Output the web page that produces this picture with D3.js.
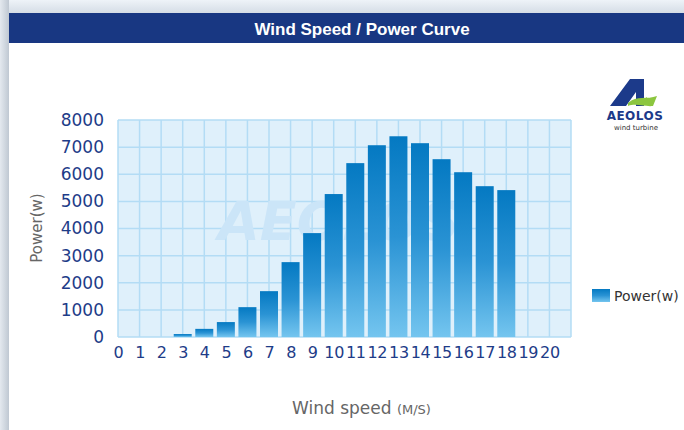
<!DOCTYPE html>
<html>
<head>
<meta charset="utf-8">
<script src="https://cdn.jsdelivr.net/npm/d3@7"></script>
<style>
  body { margin: 0; background: #fff; }
  svg { display: block; font-family: "DejaVu Sans", Verdana, sans-serif; }
</style>
</head>
<body>
<svg id="chart" width="684" height="430"></svg>
<script>
// data
var speeds = [3, 4, 5, 6, 7, 8, 9, 10, 11, 12, 13, 14, 15, 16, 17, 18];
var power = [110, 300, 550, 1100, 1690, 2760, 3830, 5270, 6410, 7070, 7400, 7145, 6555, 6075, 5560, 5415];
var xTicks = d3.range(0, 21);
var yTicks = [0, 1000, 2000, 3000, 4000, 5000, 6000, 7000, 8000];

var svg = d3.select("#chart");
var defs = svg.append("defs");

// page frame: light shadow on top and left
var topGrad = defs.append("linearGradient").attr("id", "topShade")
    .attr("x1", 0).attr("y1", 0).attr("x2", 0).attr("y2", 1);
topGrad.append("stop").attr("offset", "0%").attr("stop-color", "#eef3f8");
topGrad.append("stop").attr("offset", "100%").attr("stop-color", "#d5dde6");
var leftGrad = defs.append("linearGradient").attr("id", "leftShade")
    .attr("x1", 0).attr("y1", 0).attr("x2", 1).attr("y2", 0);
leftGrad.append("stop").attr("offset", "0%").attr("stop-color", "#e4e9ef");
leftGrad.append("stop").attr("offset", "100%").attr("stop-color", "#bfc8d2");

svg.append("rect").attr("x", 0).attr("y", 0).attr("width", 684).attr("height", 13).attr("fill", "url(#topShade)");
svg.append("rect").attr("x", 0).attr("y", 0).attr("width", 9).attr("height", 430).attr("fill", "url(#leftShade)");

// title bar
svg.append("rect").attr("x", 9).attr("y", 13).attr("width", 675).attr("height", 30).attr("fill", "#183782");
svg.append("text")
    .attr("x", 362).attr("y", 35)
    .attr("text-anchor", "middle")
    .attr("fill", "#fff")
    .style("font-family", "'Liberation Sans', Arial, sans-serif")
    .style("font-weight", "bold")
    .style("font-size", "17px")
    .text("Wind Speed / Power Curve");

// scales
var x = d3.scaleLinear().domain([0, 21]).range([118, 571]);
var y = d3.scaleLinear().domain([0, 8000]).range([337, 120]);
var barW = 18;

// plot background + grid
var g = svg.append("g");
g.append("rect")
    .attr("x", x(0)).attr("y", y(8000))
    .attr("width", x(21) - x(0)).attr("height", y(0) - y(8000))
    .attr("fill", "#dff0fb");

g.selectAll(".hgrid")
  .data(yTicks)
  .enter().append("line")
    .attr("class", "hgrid")
    .attr("x1", x(0)).attr("x2", x(21))
    .attr("y1", function(d) { return y(d); })
    .attr("y2", function(d) { return y(d); })
    .attr("stroke", "#b3dcf5").attr("stroke-width", 1.5);

g.selectAll(".vgrid")
  .data(d3.range(0, 22))
  .enter().append("line")
    .attr("class", "vgrid")
    .attr("x1", function(d) { return x(d); })
    .attr("x2", function(d) { return x(d); })
    .attr("y1", y(8000)).attr("y2", y(0))
    .attr("stroke", "#b3dcf5").attr("stroke-width", 1.5);

// faint watermark
g.append("text")
    .attr("x", 218).attr("y", 240)
    .attr("fill", "#cbe5f8")
    .style("font-family", "'DejaVu Sans', sans-serif")
    .style("font-weight", "bold")
    .style("font-style", "italic")
    .style("font-size", "54px")
    .text("AEOLOS");

// bars
var barGrad = defs.append("linearGradient").attr("id", "barGrad")
    .attr("x1", 0).attr("y1", 0).attr("x2", 0).attr("y2", 1);
barGrad.append("stop").attr("offset", "0%").attr("stop-color", "#0479c2");
barGrad.append("stop").attr("offset", "50%").attr("stop-color", "#2a93d4");
barGrad.append("stop").attr("offset", "100%").attr("stop-color", "#74c5ef");

g.selectAll(".bar")
  .data(speeds)
  .enter().append("rect")
    .attr("class", "bar")
    .attr("x", function(d) { return x(d) - barW / 2; })
    .attr("y", function(d, i) { return y(power[i]); })
    .attr("width", barW)
    .attr("height", function(d, i) { return y(0) - y(power[i]); })
    .attr("fill", "url(#barGrad)");

// axes
var yAxis = svg.append("g")
    .attr("transform", "translate(104,0)")
    .call(d3.axisLeft(y).tickValues(yTicks).tickSize(0).tickPadding(0).tickFormat(d3.format("d")));
yAxis.select(".domain").remove();
yAxis.selectAll("text")
    .attr("fill", "#1e3c88")
    .style("font-size", "17px")
    .style("font-family", "'DejaVu Sans', Verdana, sans-serif");

var xAxis = svg.append("g")
    .attr("transform", "translate(0,347)")
    .call(d3.axisBottom(x).tickValues(xTicks).tickSize(0).tickPadding(0).tickFormat(d3.format("d")));
xAxis.select(".domain").remove();
xAxis.selectAll("text")
    .attr("fill", "#1e3c88")
    .style("font-size", "16px")
    .style("letter-spacing", "-0.3px")
    .style("font-family", "'DejaVu Sans', Verdana, sans-serif");

// axis titles
svg.append("text")
    .attr("transform", "translate(42,228) rotate(-90)")
    .attr("text-anchor", "middle")
    .attr("fill", "#666")
    .style("font-size", "15px")
    .text("Power(w)");

var xt = svg.append("text")
    .attr("x", 292).attr("y", 414)
    .attr("fill", "#666")
    .style("font-size", "17px");
xt.append("tspan").text("Wind speed ");
xt.append("tspan").style("font-size", "13px").text("(M/S)");

// legend
svg.append("rect")
    .attr("x", 592).attr("y", 289).attr("width", 18).attr("height", 13)
    .attr("fill", "url(#barGrad)");
svg.append("text")
    .attr("x", 614).attr("y", 301)
    .attr("fill", "#333")
    .style("font-size", "14px")
    .text("Power(w)");

// logo
var logo = svg.append("g");
logo.append("path")
    .attr("d", "M610,106 L630,79 L644,79 L644,106 L636,106 L636,92 L626,106 Z")
    .attr("fill", "#1c3a8a");
logo.append("path")
    .attr("d", "M628,103 C637,95 647,100 657,96 L653,106 C645,107 636,103 628,106 Z")
    .attr("fill", "#8cc63f");
logo.append("text")
    .attr("x", 635).attr("y", 120)
    .attr("text-anchor", "middle")
    .attr("fill", "#1c3a8a")
    .style("font-weight", "bold")
    .style("font-size", "12px")
    .style("letter-spacing", "0.5px")
    .text("AEOLOS");
logo.append("text")
    .attr("x", 636).attr("y", 130)
    .attr("text-anchor", "middle")
    .attr("fill", "#333")
    .style("font-size", "7px")
    .text("wind turbine");
</script>
</body>
</html>
